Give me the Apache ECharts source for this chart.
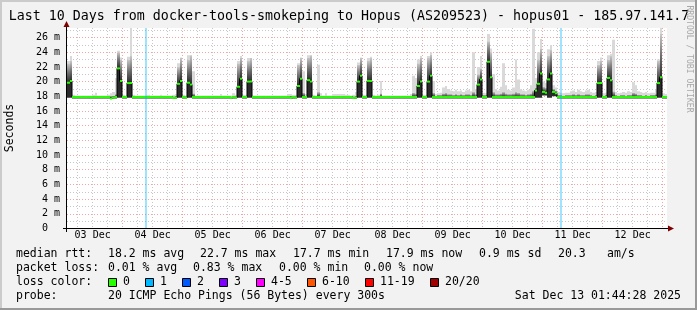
<!DOCTYPE html>
<html><head><meta charset="utf-8">
<script src="https://cdn.jsdelivr.net/npm/echarts@6/dist/echarts.min.js"></script>
<style>html,body{margin:0;padding:0;background:#f2f2f2}#c{width:697px;height:310px}</style>
</head><body><div id="c"></div>
<script>
// ---- data (hourly columns, column k = k-th hour after Dec 3 01:44) ----
const dayLabels = ['03 Dec','04 Dec','05 Dec','06 Dec','07 Dec','08 Dec','09 Dec','10 Dec','11 Dec','12 Dec'];
const yTickLabels = ['0  ','2 m','4 m','6 m','8 m','10 m','12 m','14 m','16 m','18 m','20 m','22 m','24 m','26 m'];

const medianRtt = [
 19.85,20.1,17.9,17.9,17.9, 17.9,17.9,17.9,17.9,17.9, 17.9,17.9,17.9,17.9,17.9, 17.9,17.9,17.7,17.8,17.9, 21.8,20.1,17.9,17.9,
 19.8,19.8,17.9,17.9,17.9, 17.9,17.9,17.9,17.9,17.9, 17.9,17.9,17.9,17.9,17.9, 17.9,17.9,17.9,17.8,17.8, 19.7,20.1,17.9,17.8,
 19.85,19.6,17.9,17.9,17.9, 17.9,17.9,17.9,17.9,17.9, 17.9,17.9,17.9,17.9,17.9, 17.9,17.9,17.8,17.9,17.8, 19.3,20.4,17.9,17.9,
 20.0,20.0,17.9,17.9,17.9, 17.9,17.9,17.9,17.9,17.9, 17.9,17.9,17.9,17.9,17.9, 17.9,17.9,17.8,17.9,17.8, 19.4,20.4,17.9,17.9,
 20.2,20.0,17.9,17.9,17.9, 17.9,17.9,17.9,17.9,17.9, 17.9,17.9,17.9,17.9,17.9, 17.9,17.9,17.9,17.8,17.8, 20.0,20.8,17.9,17.9,
 20.1,20.1,17.9,17.9,17.9, 17.9,17.9,17.9,17.9,17.9, 17.9,17.9,17.9,17.9,17.9, 17.9,17.9,17.9,17.9,17.9, 19.4,20.0,17.9,17.9,
 20.0,20.8,17.9,17.9,17.9, 17.9,17.9,17.9,17.9,17.9, 17.9,17.9,17.9,17.9,17.9, 17.9,17.9,17.9,17.9,17.9, 19.6,20.3,17.9,17.9,
 22.7,20.6,17.9,17.9,17.9, 17.9,17.9,17.9,17.9,17.9, 17.9,17.9,17.9,17.9,17.9, 17.9,17.9,17.9,17.9,18.8, 19.7,21.1,18.6,18.5,
 20.3,21.1,18.6,18.4,17.9, 17.9,17.9,17.9,17.9,17.9, 17.9,17.9,17.9,17.9,17.9, 17.9,17.9,17.9,17.9,17.9, 19.8,19.8,17.9,17.9,
 20.5,20.2,17.9,17.9,17.9, 17.9,17.9,17.9,17.9,17.9, 17.9,17.9,17.9,17.9,17.9, 17.9,17.9,17.9,17.9,17.9, 19.8,20.6,17.9,17.9
];
const pingMin = [
 17.8,17.8,17.7,17.7,17.7, 17.7,17.7,17.7,17.7,17.7, 17.7,17.7,17.7,17.7,17.7, 17.7,17.7,17.7,17.7,17.7, 17.8,17.8,17.7,17.7,
 17.8,17.8,17.7,17.7,17.7, 17.7,17.7,17.7,17.7,17.7, 17.7,17.7,17.7,17.7,17.7, 17.7,17.7,17.7,17.7,17.7, 17.8,17.8,17.7,17.7,
 17.8,17.8,17.7,17.7,17.7, 17.7,17.7,17.7,17.7,17.7, 17.7,17.7,17.7,17.7,17.7, 17.7,17.7,17.7,17.7,17.7, 17.8,17.8,17.7,17.7,
 17.8,17.8,17.7,17.7,17.7, 17.7,17.7,17.7,17.7,17.7, 17.7,17.7,17.7,17.7,17.7, 17.7,17.7,17.7,17.7,17.7, 17.8,17.8,17.7,17.7,
 17.8,17.8,17.7,17.7,17.7, 17.7,17.7,17.7,17.7,17.7, 17.7,17.7,17.7,17.7,17.7, 17.7,17.7,17.7,17.7,17.7, 17.8,17.8,17.7,17.7,
 17.8,17.8,17.7,17.7,17.7, 17.7,17.7,17.7,17.7,17.7, 17.7,17.7,17.7,17.7,17.7, 17.7,17.7,17.7,17.7,17.7, 17.8,17.8,17.7,17.7,
 17.8,17.8,17.7,17.7,17.7, 17.7,17.7,17.7,17.7,17.7, 17.7,17.7,17.7,17.7,17.7, 17.7,17.7,17.7,17.7,17.7, 17.8,17.8,17.7,17.7,
 17.8,17.8,17.7,17.7,17.7, 17.7,17.7,17.7,17.7,17.7, 17.7,17.7,17.7,17.7,17.7, 17.7,17.7,17.7,17.7,17.8, 17.8,17.8,18.1,18.1,
 17.8,17.8,18.0,18.0,17.7, 17.7,17.7,17.7,17.7,17.7, 17.7,17.7,17.7,17.7,17.7, 17.7,17.7,17.7,17.7,17.7, 17.8,17.8,17.7,17.7,
 17.8,17.8,17.7,17.7,17.7, 17.7,17.7,17.7,17.7,17.7, 17.7,17.7,17.7,17.7,17.7, 17.7,17.7,17.7,17.7,17.7, 17.8,17.8,17.7,17.7
];
const pingP90 = [
 22.5,22.8,18.0,18.0,18.0, 18.0,18.0,18.0,18.0,18.0, 18.0,18.1,18.0,18.0,18.0, 18.0,18.0,18.1,18.1,18.3, 24.0,23.0,18.0,18.0,
 23.0,23.5,18.0,18.0,18.0, 18.0,18.0,18.0,18.0,18.0, 18.0,18.0,18.0,18.0,18.0, 18.0,18.0,18.0,18.0,18.1, 22.0,23.2,18.0,18.0,
 23.0,23.6,18.4,18.0,18.0, 18.0,18.0,18.0,18.0,18.0, 18.0,18.0,18.0,18.1,18.0, 18.0,18.0,18.0,18.1,18.0, 22.5,23.3,18.0,18.0,
 22.8,23.2,18.0,18.0,18.0, 18.0,18.0,18.0,18.0,18.0, 18.0,18.0,18.0,18.0,18.0, 18.0,18.1,18.1,18.0,18.0, 22.3,23.2,18.5,18.1,
 23.3,23.6,18.0,18.0,18.6, 18.1,18.0,18.1,18.0,18.0, 18.1,18.1,18.1,18.1,18.1, 18.0,18.0,18.0,18.0,18.1, 22.3,23.2,18.0,18.0,
 22.8,23.2,18.0,18.0,18.0, 18.4,18.0,18.0,18.0,18.0, 18.0,18.0,18.0,18.0,18.0, 18.0,18.0,18.1,18.5,18.4, 22.5,23.3,18.0,18.0,
 23.2,23.7,18.5,18.1,18.2, 18.2,18.4,18.5,18.3,18.3, 18.2,18.3,18.2,18.3,18.2, 18.3,18.3,18.2,18.6,18.3, 21.0,21.8,18.2,18.2,
 25.5,24.0,18.6,18.3,18.3, 18.4,18.6,18.4,18.3,18.3, 18.4,18.6,18.5,18.3,18.3, 18.2,18.3,18.4,18.8,19.2, 23.0,24.5,19.3,19.2,
 23.5,24.3,19.0,18.8,18.2, 18.2,18.1,18.2,18.2,18.2, 18.3,18.2,18.3,18.2,18.2, 18.3,18.3,18.2,18.1,18.2, 22.3,22.8,18.1,18.2,
 23.0,23.5,18.7,18.2,18.1, 18.2,18.2,18.1,18.2,18.2, 18.5,18.4,18.2,18.2,18.1, 18.2,18.1,18.2,18.2,18.3, 22.8,26.5,18.1,18.0
];
const pingMax = [
 22.8,23.5,18.2,18.1,18.1, 18.1,18.1,18.1,18.1,18.1, 18.2,18.5,18.1,18.1,18.1, 18.1,18.2,18.4,18.6,20.5, 24.2,23.3,18.2,18.1,
 23.4,27.3,18.2,18.1,18.1, 18.1,18.1,18.1,18.2,18.1, 18.1,18.1,18.1,18.2,18.1, 18.1,18.1,18.1,18.2,18.3, 22.5,23.3,18.2,18.1,
 23.6,23.6,21.4,18.1,18.1, 18.1,18.1,18.1,18.1,18.1, 18.1,18.1,18.1,18.3,18.1, 18.1,18.1,18.1,18.4,18.2, 22.8,23.5,18.2,18.2,
 23.2,23.2,18.1,18.1,18.1, 18.1,18.1,18.1,18.1,18.1, 18.1,18.1,18.1,18.1,18.1, 18.1,18.3,18.3,18.2,18.2, 22.5,23.3,21.4,18.3,
 23.6,23.6,18.2,18.1,22.3, 18.4,18.1,18.4,18.1,18.1, 18.3,18.3,18.3,18.3,18.3, 18.2,18.2,18.1,18.2,18.6, 22.6,23.3,18.2,18.2,
 23.2,23.4,18.2,18.1,18.2, 20.1,18.1,18.1,18.1,18.1, 18.1,18.1,18.1,18.1,18.1, 18.1,18.1,18.3,20.8,20.5, 23.0,23.5,18.2,18.2,
 23.5,24.0,20.1,18.3,18.4, 18.5,19.2,19.4,19.0,18.8, 18.7,18.9,18.7,18.8,18.6, 18.8,18.9,18.7,24.0,19.0, 22.0,23.5,18.5,18.4,
 26.5,24.5,21.0,19.0,18.8, 19.3,22.5,19.5,18.9,18.8, 19.2,23.0,20.3,19.0,18.8, 18.7,18.9,19.5,27.2,20.5, 24.0,25.8,20.0,19.8,
 24.4,25.0,19.5,19.2,18.6, 18.5,18.4,18.5,18.5,18.7, 18.8,18.6,18.9,18.7,18.6, 18.8,18.9,18.6,18.5,18.6, 22.8,23.3,18.4,18.5,
 23.6,23.8,25.7,18.6,18.4, 18.5,18.6,18.5,18.7,18.6, 19.9,19.5,18.7,18.6,18.5, 18.6,18.4,18.5,18.5,18.9, 23.0,27.3,18.4,18.3
];
// hours with packet loss (column index) and loss percentage
const lossHours = [31, 197];
const lossPct = [0.83, 0.83];

const titleText = 'Last 10 Days from docker-tools-smokeping to Hopus (AS209523) - hopus01 - 185.97.141.7';
const medianStats = ['18.2 ms avg','22.7 ms max','17.7 ms min','17.9 ms now','0.9 ms sd','20.3','am/s'];
const lossStats = ['0.01 % avg','0.83 % max','0.00 % min','0.00 % now'];
const lossColorLabels = ['0','1','2','3','4-5','6-10','11-19','20/20'];
const lossColorValues = ['#26ff00','#00b8ff','#0059ff','#7e00ff','#ff00ff','#ff5500','#ff0000','#a10000'];
const probeText = '20 ICMP Echo Pings (56 Bytes) every 300s';
const dateText = 'Sat Dec 13 01:44:28 2025';

// ---- layout / style ----
const MONO = '"DejaVu Sans Mono", monospace';
const GRID_MINOR = 'rgba(143,143,143,0.5)';
const GRID_MAJOR = 'rgba(222,80,80,0.5)';
const NONE = 'rgba(0,0,0,0)';
const yMax = 27.3;
const nCols = medianRtt.length;

const ySplitColors = [];
for (let i = 0; i <= 28; i++) ySplitColors.push(i === 28 ? NONE : (i % 2 === 0 ? GRID_MAJOR : GRID_MINOR));
const xSplitColors = [];
for (let i = 0; i <= 40; i++) xSplitColors.push(i === 0 ? NONE : (i % 4 === 0 ? GRID_MAJOR : GRID_MINOR));

const smokeRows = medianRtt.map((m, k) => [k, pingMin[k], m, pingP90[k], pingMax[k]]);
const medianLine = medianRtt.map((m, k) => [k, m]).concat([[nCols, medianRtt[nCols - 1]]]);
const lossRows = lossHours.map((h, i) => [h, lossPct[i]]);

function colX(api, k) {
  return [Math.round(api.coord([k, 0])[0]), Math.round(api.coord([k + 1, 0])[0])];
}
function renderSmoke(params, api) {
  const k = api.value(0);
  const lo = api.value(1), med = api.value(2), hi = api.value(3), mx = api.value(4);
  const [xa, xb] = colX(api, k);
  const w = xb - xa;
  const y = v => api.coord([k, v])[1];
  return {
    type: 'group',
    children: [
      { type: 'rect', shape: { x: xa, y: y(mx), width: w, height: y(hi) - y(mx) }, style: { fill: '#d9d9d9' } },
      { type: 'rect', shape: { x: xa, y: y(hi), width: w, height: y(med) - y(hi) },
        style: { fill: new echarts.graphic.LinearGradient(0, 0, 0, 1, [
          { offset: 0, color: '#c8c8c8' }, { offset: 0.5, color: '#707070' }, { offset: 1, color: '#2a2a2a' }]) } },
      { type: 'rect', shape: { x: xa, y: y(med), width: w, height: y(lo) - y(med) }, style: { fill: '#2a2a2a' } }
    ]
  };
}
function renderMedian(params, api) {
  const k = api.value(0);
  const [xa, xb] = colX(api, k);
  const yy = api.coord([k, api.value(1)])[1];
  return { type: 'rect', shape: { x: xa, y: yy - 1, width: xb - xa, height: 2 }, style: { fill: lossColorValues[0] } };
}
function renderLoss(params, api) {
  const k = api.value(0);
  const [xa, xb] = colX(api, k);
  const yTop = api.coord([k, yMax])[1], yBot = api.coord([k, 0])[1];
  return { type: 'rect', shape: { x: xa, y: yTop, width: xb - xa, height: yBot - yTop }, style: { fill: 'rgba(0,184,255,0.38)' } };
}

const txt = (text, x, y, size, opts) => Object.assign({
  type: 'text', x: x, y: y,
  style: Object.assign({ text: text, font: size + 'px ' + MONO, fill: '#000',
    align: 'left', textAlign: 'left', verticalAlign: 'middle', textVerticalAlign: 'middle' }, (opts && opts.style) || {})
}, (opts && opts.el) || {});

const graphics = [];
// frame shading
graphics.push({ type: 'rect', shape: { x: 0, y: 0, width: 697, height: 310 }, style: { fill: '#f2f2f2' }, z: -10 });
graphics.push({ type: 'line', shape: { x1: 0, y1: 1, x2: 697, y2: 1 }, style: { stroke: '#cbcbcb', lineWidth: 2 } });
graphics.push({ type: 'line', shape: { x1: 1, y1: 0, x2: 1, y2: 310 }, style: { stroke: '#cbcbcb', lineWidth: 2 } });
graphics.push({ type: 'line', shape: { x1: 0, y1: 309, x2: 697, y2: 309 }, style: { stroke: '#999999', lineWidth: 2 } });
graphics.push({ type: 'line', shape: { x1: 696, y1: 0, x2: 696, y2: 310 }, style: { stroke: '#999999', lineWidth: 2 } });
// title
graphics.push(txt(titleText, 349, 17, 13.3, { style: { align: 'center', textAlign: 'center' } }));
// y unit
graphics.push(txt('Seconds', 10.5, 128, 11.5, { el: { rotation: Math.PI / 2 }, style: { x: 0, y: 0, align: 'center', textAlign: 'center' } }));
// watermark
graphics.push({ type: 'text', x: 689, y: 59, rotation: -Math.PI / 2,
  style: { text: 'RRDTOOL / TOBI OETIKER', font: '8.1px ' + MONO, fill: '#a8a8a8', align: 'center', textAlign: 'center', verticalAlign: 'middle', textVerticalAlign: 'middle' } });
// axes lines and arrows
graphics.push({ type: 'line', z: 50, shape: { x1: 63, y1: 228.5, x2: 669, y2: 228.5 }, style: { stroke: '#000', lineWidth: 1 } });
graphics.push({ type: 'line', z: 50, shape: { x1: 66.5, y1: 232, x2: 66.5, y2: 25 }, style: { stroke: '#000', lineWidth: 1 } });
graphics.push({ type: 'polygon', z: 51, shape: { points: [[674, 228.5], [668, 225.5], [668, 231.5]] }, style: { fill: '#7f0000' } });
graphics.push({ type: 'polygon', z: 51, shape: { points: [[66.5, 21], [63.5, 27], [69.5, 27]] }, style: { fill: '#7f0000' } });
// legend rows
const rowY = [254.5, 268.5, 282.5, 296.5];
graphics.push(txt('median rtt:', 16, rowY[0], 11.5));
const medX = [108, 200, 293, 386, 479, 558, 607];
medianStats.forEach((s, i) => graphics.push(txt(s, medX[i], rowY[0], 11.5)));
graphics.push(txt('packet loss:', 16, rowY[1], 11.5));
const lossX = [108, 193, 279, 364];
lossStats.forEach((s, i) => graphics.push(txt(s, lossX[i], rowY[1], 11.5)));
graphics.push(txt('loss color:', 16, rowY[2], 11.5));
const boxX = [108, 145, 182, 219, 256, 307, 365, 430];
lossColorLabels.forEach((s, i) => {
  graphics.push({ type: 'rect', shape: { x: boxX[i] + 0.5, y: 278.5, width: 8, height: 8 }, style: { fill: lossColorValues[i], stroke: '#000', lineWidth: 1 } });
  graphics.push(txt(s, boxX[i] + 15, rowY[2], 11.5));
});
graphics.push(txt('probe:', 16, rowY[3], 11.5));
graphics.push(txt(probeText, 108, rowY[3], 11.5));
graphics.push(txt(dateText, 681, rowY[3], 11.5, { style: { align: 'right', textAlign: 'right' } }));

const chart = echarts.init(document.getElementById('c'));
chart.setOption({
  animation: false,
  backgroundColor: '#f2f2f2',
  grid: [
    { left: 67, top: 28, width: 600, height: 200.5, show: true, backgroundColor: '#ffffff', borderWidth: 0 },
    { left: 62.65, top: 28, width: 600, height: 200.5, show: false }
  ],
  xAxis: [
    { gridIndex: 0, type: 'value', min: 0, max: nCols, show: false },
    { gridIndex: 1, type: 'value', min: 0, max: 240, interval: 6, position: 'top',
      axisLine: { show: false }, axisTick: { show: false }, axisLabel: { show: false },
      splitLine: { show: true, lineStyle: { color: xSplitColors, type: [1, 2], width: 1 } } },
    { gridIndex: 1, type: 'category', data: dayLabels, boundaryGap: true, position: 'bottom',
      axisLine: { show: false }, axisTick: { show: false }, splitLine: { show: false },
      axisLabel: { fontFamily: MONO, fontSize: 10, color: '#000', margin: 2, interval: 0 } }
  ],
  yAxis: [
    { gridIndex: 0, type: 'value', min: 0, max: yMax, interval: 1,
      axisLine: { show: false }, axisTick: { show: false },
      axisLabel: { fontFamily: MONO, fontSize: 10, color: '#000', margin: 7,
        formatter: v => { const r = Math.round(v); if (Math.abs(v - r) > 1e-6 || r % 2) return ''; return yTickLabels[r / 2] || ''; } },
      splitLine: { show: true, lineStyle: { color: ySplitColors, type: [1, 2], width: 1 } } },
    { gridIndex: 1, type: 'value', min: 0, max: 1, show: false }
  ],
  graphic: { elements: graphics },
  series: [
    { type: 'custom', name: 'smoke', xAxisIndex: 0, yAxisIndex: 0, z: 2, renderItem: renderSmoke,
      encode: { x: 0, y: [1, 2, 3, 4] }, data: smokeRows, clip: true, silent: true },
    { type: 'line', name: 'median', xAxisIndex: 0, yAxisIndex: 0, z: 3, step: 'end', data: medianLine,
      showSymbol: false, symbol: 'none', lineStyle: { color: '#000', width: 1 }, silent: true },
    { type: 'custom', name: 'median rtt', xAxisIndex: 0, yAxisIndex: 0, z: 4, renderItem: renderMedian,
      encode: { x: 0, y: 1 }, data: medianLine.slice(0, nCols), silent: true },
    { type: 'custom', name: 'loss', xAxisIndex: 0, yAxisIndex: 0, z: 5, renderItem: renderLoss,
      encode: { x: 0, y: 1 }, data: lossRows, silent: true }
  ]
});
</script>
</body></html>
